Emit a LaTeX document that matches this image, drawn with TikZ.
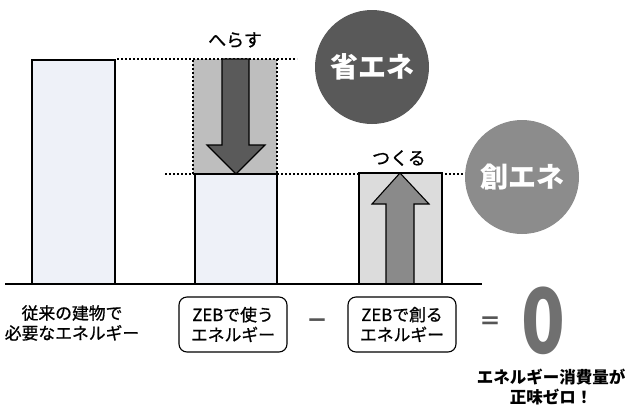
\documentclass[tikz,border=0pt]{standalone}
\usepackage{fontspec}
\newfontfamily\jp{Noto Sans CJK JP}
\newfontfamily\jpm[FakeBold=0.9]{Noto Sans CJK JP}
\usetikzlibrary{calc}
\definecolor{barfill}{HTML}{EEF1F8}
\definecolor{cutfill}{HTML}{BEBEBE}
\definecolor{darkarrow}{HTML}{5A5A5A}
\definecolor{genfill}{HTML}{DCDCDC}
\definecolor{genarrow}{HTML}{8A8A8A}
\definecolor{savecircle}{HTML}{595959}
\definecolor{gencircle}{HTML}{8C8C8C}
\definecolor{zerocol}{HTML}{707070}
\definecolor{opcol}{HTML}{555555}
\tikzset{
  bar/.style={draw=black, line width=1.1pt, fill=barfill},
  dotline/.style={line width=1.2pt, dash pattern=on 2pt off 2pt},
  lbl/.style={font=\jpm\fontsize{16.8}{20}\selectfont, align=center, inner sep=0pt},
  boxlbl/.style={lbl, draw=black, line width=1.1pt, rounded corners=8pt, minimum width=108pt, minimum height=55pt},
  circ/.style={circle, minimum size=114pt, inner sep=0pt, text=white, font=\jp\bfseries\fontsize{28}{30}\selectfont},
  arrowshape/.style={draw=black, line width=1.1pt},
}
\begin{document}
\begin{tikzpicture}[x=1pt,y=-1pt]
\useasboundingbox (0,0) rectangle (630,408);
% bar 1
\draw[bar] (32,284) rectangle (115,60);
% bar 2 gray (reduced) region
\fill[cutfill] (193,59) rectangle (277,174);
\draw[dotline] (193,174) -- (193,59) (277,59) -- (277,174);
% bar 2
\draw[bar] (195,284) rectangle (277,174);
% dotted guide lines
\draw[dotline] (117,59) -- (297,59);
\draw[dotline] (165,174) -- (463,174);
% down arrow
\draw[arrowshape, fill=darkarrow] (222,59) -- (249,59) -- (249,145) -- (265,145) -- (236,174) -- (207,145) -- (222,145) -- cycle;
% bar 3
\draw[bar, fill=genfill] (359,284) rectangle (442,173);
% up arrow
\draw[arrowshape, fill=genarrow] (386,284) -- (386,204) -- (372,204) -- (400,173) -- (429,204) -- (414,204) -- (414,284);
% baseline
\draw[line width=1.2pt] (5,284) -- (482,284);
% labels above
\node[lbl, font=\jpm\fontsize{18}{20}\selectfont] (herasu) at (235,40) {へらす};
\node[lbl, font=\jpm\fontsize{18}{20}\selectfont] (tsukuru) at (399,158) {つくる};
% circles
\node[circ, fill=savecircle] (shoene) at (372,67) {省エネ};
\node[circ, fill=gencircle] (soene) at (522,177) {創エネ};
% bottom labels
\node[lbl] (conv) at (72,323) {従来の建物で\\必要なエネルギー};
\node[boxlbl] (use) at (233,324.5) {ZEBで使う\\エネルギー};
\node[lbl, text=opcol, font=\jp\bfseries\fontsize{22}{22}\selectfont] (minus) at (317,324) {－};
\node[boxlbl] (make) at (402,324.5) {ZEBで創る\\エネルギー};
\node[lbl, text=opcol, font=\jp\bfseries\fontsize{22}{22}\selectfont] (equal) at (490,323) {＝};
\node[lbl, text=zerocol, font=\jp\bfseries\fontsize{90}{90}\selectfont, xscale=0.8] (zero) at (543.5,321) {0};
\node[lbl, font=\jp\bfseries\fontsize{16.5}{20}\selectfont] (net) at (551,387) {エネルギー消費量が\\正味ゼロ！};
\end{tikzpicture}
\end{document}
